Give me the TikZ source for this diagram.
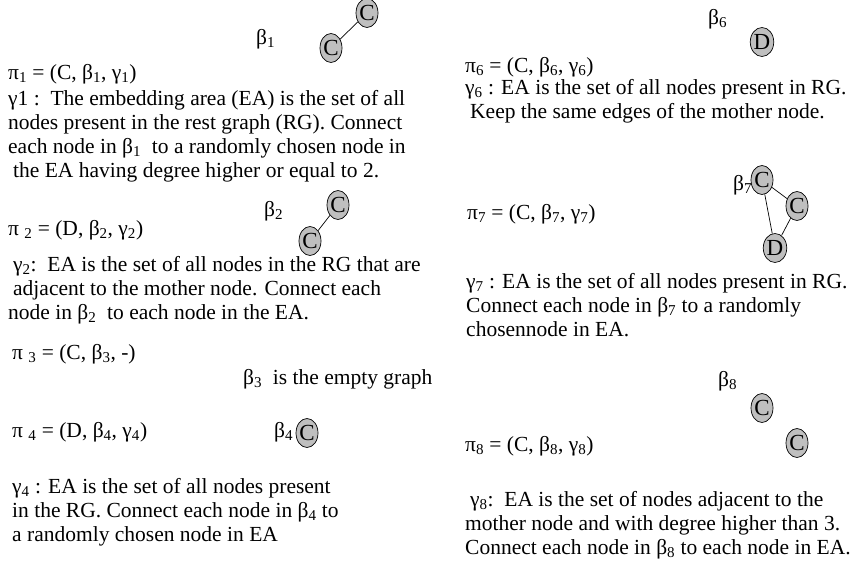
\documentclass[tikz,border=0pt]{standalone}
\usepackage{fontspec}
\setmainfont{Liberation Serif}
\usetikzlibrary{shapes.geometric}

\tikzset{
    txt/.style={anchor=base west, inner sep=0pt, font=\fontsize{21.5}{24}\selectfont},
    para/.style={anchor=north west, inner sep=0pt, align=left, font=\fontsize{21.5}{24}\selectfont},
    atom/.style={ellipse, draw=black, fill=black!25, line width=0.7pt, minimum width=22pt, minimum height=29pt, inner sep=0pt, font=\fontsize{23}{24}\selectfont},
    bond/.style={line width=0.7pt},
}
\newcommand{\lo}[1]{\textsubscript{#1}}

\begin{document}
\begin{tikzpicture}[x=1pt, y=-1pt]
    \useasboundingbox (0,0) rectangle (853,573);

    %regola pi 1
    \node[txt] (pi1) at (8,79) {π\lo{1} = (C, β\lo{1}, γ\lo{1})};
    \node[txt] (b1) at (256,44) {β\lo{1}};
    \node[atom] (c1a) at (367,13) {C};
    \node[atom] (c1b) at (331,48) {C};
    \draw[bond] (c1b) -- (c1a);
    \node[para] (g1) at (8,88.2) {\strut γ1 :\ \ The embedding area (EA) is the set of all\\
        nodes present in the rest graph (RG). Connect\\
        each node in β\lo{1}\ \ to a randomly chosen node in\\
        \hspace{5pt}the EA having degree higher or equal to 2.};

    %regola pi 2
    \node[txt] (pi2) at (8,235) {π\ \lo{2} = (D, β\lo{2}, γ\lo{2})};
    \node[txt] (b2) at (264,216) {β\lo{2}};
    \node[atom] (c2a) at (338,205) {C};
    \node[atom] (c2b) at (310,241) {C};
    \draw[bond] (c2b) -- (c2a);
    \node[para] (g2) at (8,254.2) {\strut\hspace{5pt}γ\lo{2}:\ \ EA is the set of all nodes in the RG that are\\
        \hspace{5pt}adjacent to the mother node. Connect each\\
        node in β\lo{2}\ \ to each node in the EA.};

    %regole pi 3 e pi 4
    \node[txt] (pi3) at (12,359) {π\ \lo{3} = (C, β\lo{3}, -)};
    \node[txt] (b3) at (243,384) {β\lo{3}\ \ is the empty graph};
    \node[txt] (pi4) at (12,437) {π\ \lo{4} = (D, β\lo{4}, γ\lo{4})};
    \node[txt] (b4) at (274,437) {β\lo{4}};
    \node[atom] (c4) at (307,433) {C};
    \node[para] (g4) at (12,476.2) {\strut γ\lo{4} : EA is the set of all nodes present\\
        in the RG. Connect each node in β\lo{4} to\\
        a randomly chosen node in EA};

    %regola pi 6
    \node[txt] (b6) at (708,24) {β\lo{6}};
    \node[atom] (d6) at (762,42) {D};
    \node[txt] (pi6) at (465,72) {π\lo{6} = (C, β\lo{6}, γ\lo{6})};
    \node[para] (g6) at (465,77.2) {\strut γ\lo{6} : EA is the set of all nodes present in RG.\\
        \hspace{5pt}Keep the same edges of the mother node.};

    %regola pi 7
    \node[txt] (pi7) at (467,219) {π\lo{7} = (C, β\lo{7}, γ\lo{7})};
    \node[atom] (c7a) at (762,180) {C};
    \node[atom] (c7b) at (797,206) {C};
    \node[atom] (d7) at (775,248) {D};
    \node[txt] (b7) at (733,190) {β\lo{7}};
    \draw[bond] (c7a) -- (c7b) -- (d7) -- (c7a);
    \node[para] (g7) at (466,271.2) {\strut γ\lo{7} : EA is the set of all nodes present in RG.\\
        Connect each node in β\lo{7} to a randomly\\
        chosennode in EA.};

    %regola pi 8
    \node[txt] (b8) at (718,386) {β\lo{8}};
    \node[atom] (c8a) at (762,408) {C};
    \node[atom] (c8b) at (797,443) {C};
    \node[txt] (pi8) at (465,451) {π\lo{8} = (C, β\lo{8}, γ\lo{8})};
    \node[para] (g8) at (465,489.2) {\strut\hspace{5pt}γ\lo{8}:\ \ EA is the set of nodes adjacent to the\\
        mother node and with degree higher than 3.\\
        Connect each node in β\lo{8} to each node in EA.};
\end{tikzpicture}
\end{document}
